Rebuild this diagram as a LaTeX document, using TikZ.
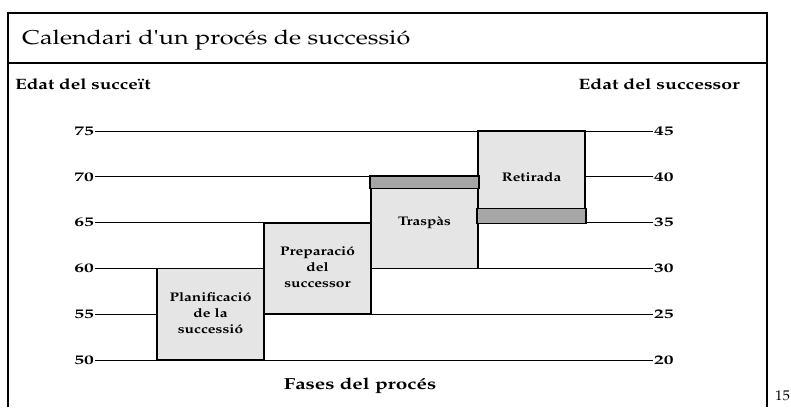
\documentclass[tikz,border=0pt]{standalone}
\usepackage[T1]{fontenc}
\usepackage{mathpazo}

% the printed face runs wider than Palatino
\newcommand\wtext[2][1.25]{\scalebox{#1}[1]{#2}}

\tikzset{
  gridline/.style={line width=0.8pt},
  phasebox/.style={draw=black,line width=1.8pt,fill=black!10,minimum width=107pt,minimum height=91.6pt,inner sep=0pt,font=\fontsize{12.5}{15.8}\selectfont\bfseries},
  band/.style={draw=black,line width=1.8pt,fill=black!35},
  agelabel/.style={font=\fontsize{13}{14}\selectfont\bfseries,inner sep=1pt},
  axistitle/.style={font=\fontsize{15}{17}\selectfont\bfseries,inner sep=0pt},
}

\begin{document}
\begin{tikzpicture}[x=1pt,y=-1pt]
\useasboundingbox (0,0) rectangle (791,407);

% frame and title
\draw[line width=1.6pt] (8,407) -- (8,13) -- (767,13) -- (767,407);
\draw[line width=1.2pt] (8,63) -- (767,63);
\node[anchor=base west,inner sep=0pt,font=\fontsize{20}{22}\selectfont] (title) at (22,44) {\wtext[1.26]{Calendari d\textquotesingle un proc\'es de successi\'o}};

\node[axistitle,anchor=base west] (left) at (15,89) {\wtext[1.27]{Edat del succe\"{\i}t}};
\node[axistitle,anchor=base east] (right) at (740,89) {\wtext[1.3]{Edat del successor}};

% age lines
\foreach \i [evaluate=\i as \yy using 360-45.8*\i,
             evaluate=\i as \la using int(50+5*\i),
             evaluate=\i as \ra using int(20+5*\i)] in {0,...,5}{
  \node[agelabel,anchor=east] (l\i) at (95,\yy) {\wtext[1.5]{\la}};
  \node[agelabel,anchor=west] (r\i) at (653,\yy) {\wtext[1.5]{\ra}};
  \draw[gridline] (l\i.east) -- (r\i.west);
}

% phases
\node[phasebox] (plan) at (210.5,314.2) {\wtext[1.24]{\begin{tabular}{@{}c@{}}Planificaci\'o\\de la\\successi\'o\end{tabular}}};
\node[phasebox] (prep) at (317.5,268.4) {\wtext[1.24]{\begin{tabular}{@{}c@{}}Preparaci\'o\\del\\successor\end{tabular}}};
\node[phasebox] (trasp) at (424.5,222.6) {\wtext[1.22]{Trasp\`as}};
\node[phasebox] (retir) at (531.5,176.8) {\wtext[1.22]{Retirada}};

\draw[band] (trasp.north west) rectangle ([yshift=-12.5pt]trasp.north east);
\draw[band] ([yshift=15pt]retir.south west) rectangle (retir.south east);

\node[axistitle,anchor=base,font=\fontsize{16}{18}\selectfont\bfseries] (fases) at (360,389) {\wtext[1.3]{Fases del proc\'es}};
\node[anchor=base west,inner sep=0pt,font=\fontsize{14}{16}\selectfont] (page) at (775,400) {\wtext[1.05]{15}};

\end{tikzpicture}
\end{document}
